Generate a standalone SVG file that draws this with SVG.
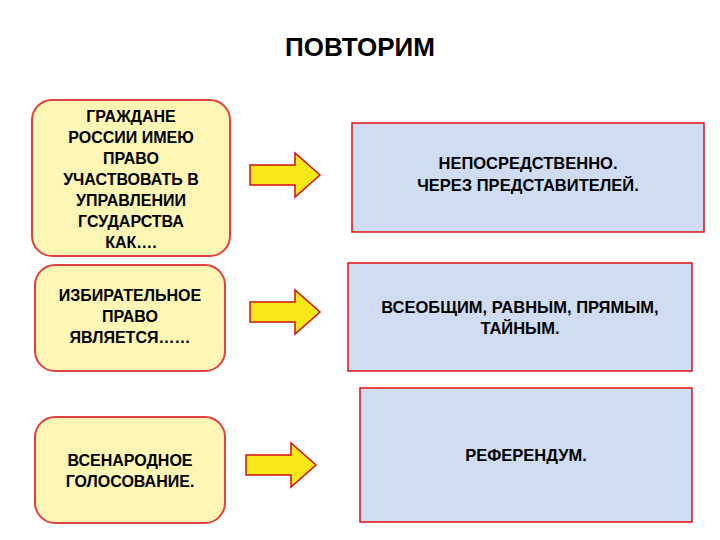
<svg xmlns="http://www.w3.org/2000/svg" width="720" height="540" viewBox="0 0 720 540">
<style>
text{font-family:"Liberation Sans",Arial,sans-serif;font-size:16.5px;font-weight:bold;text-anchor:middle}
.b{font-size:16px}
.l{fill:#fdf6b4;stroke:#e04040;stroke-width:2}
.r{fill:#cfdcf2;stroke:#e01010;stroke-width:1.5}
.a{fill:#f8e81a;stroke:#d01010;stroke-width:1.5}
</style>
<defs>
<path id="arr" d="M0,-10 H45 V-22 L70,0 L45,22 V10 H0 Z"/>
</defs>
<rect width="720" height="540" fill="#fff"/>
<text x="360" y="56" style="font-size:26px">ПОВТОРИМ</text>
<g id="n1"><rect class="l" x="32" y="100" width="198" height="156" rx="20"/>
<text class="b"><tspan x="131" y="122">ГРАЖДАНЕ</tspan><tspan x="131" y="143">РОССИИ ИМЕЮ</tspan><tspan x="131" y="164">ПРАВО</tspan><tspan x="131" y="185">УЧАСТВОВАТЬ В</tspan><tspan x="131" y="206">УПРАВЛЕНИИ</tspan><tspan x="131" y="227">ГСУДАРСТВА</tspan><tspan x="131" y="248">КАК….</tspan></text></g>
<g id="n2"><rect class="l" x="35" y="265" width="190" height="106" rx="20"/>
<text class="b"><tspan x="130" y="301">ИЗБИРАТЕЛЬНОЕ</tspan><tspan x="130" y="322">ПРАВО</tspan><tspan x="130" y="343">ЯВЛЯЕТСЯ……</tspan></text></g>
<g id="n3"><rect class="l" x="35" y="417" width="190" height="106" rx="20"/>
<text class="b"><tspan x="130" y="466">ВСЕНАРОДНОЕ</tspan><tspan x="130" y="487">ГОЛОСОВАНИЕ.</tspan></text></g>
<g id="n4"><rect class="r" x="352" y="123" width="352" height="109"/>
<text><tspan x="528" y="169">НЕПОСРЕДСТВЕННО.</tspan><tspan x="528" y="191">ЧЕРЕЗ ПРЕДСТАВИТЕЛЕЙ.</tspan></text></g>
<g id="n5"><rect class="r" x="348" y="263" width="344" height="108"/>
<text><tspan x="520" y="313">ВСЕОБЩИМ, РАВНЫМ,  ПРЯМЫМ,</tspan><tspan x="520" y="334">ТАЙНЫМ.</tspan></text></g>
<g id="n6"><rect class="r" x="360" y="388" width="332" height="134"/>
<text x="526" y="461">РЕФЕРЕНДУМ.</text></g>
<g id="connectors">
<use href="#arr" class="a" x="250" y="175"/>
<use href="#arr" class="a" x="250" y="312"/>
<use href="#arr" class="a" x="246" y="465"/>
</g>
</svg>
